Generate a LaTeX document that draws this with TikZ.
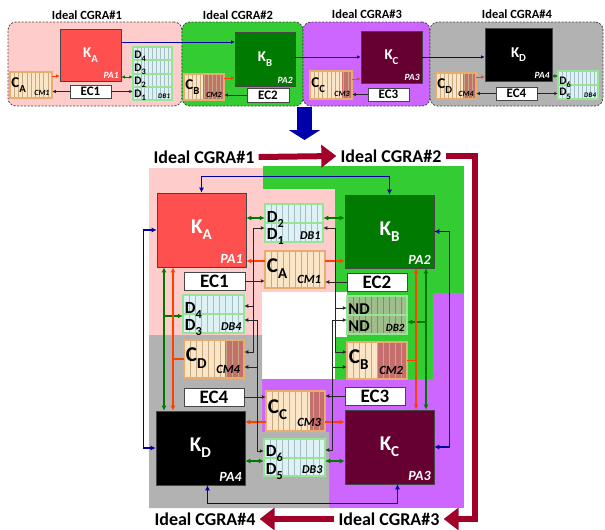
\documentclass[tikz,border=0pt]{standalone}
\usepackage{fontspec}
\setmainfont{Carlito}
\usepackage{graphicx}
\usepackage{tikz}
\usetikzlibrary{arrows.meta, calc}
\definecolor{BgPink}{RGB}{255,204,204}
\definecolor{BgGreen}{RGB}{51,204,51}
\definecolor{BgPurple}{RGB}{204,102,255}
\definecolor{BgGray}{RGB}{178,178,178}
\definecolor{KRed}{RGB}{255,80,80}
\definecolor{KGreen}{RGB}{0,122,0}
\definecolor{KMaroon}{RGB}{102,0,51}
\definecolor{DbFill}{RGB}{222,242,246}
\definecolor{DbBand}{RGB}{150,228,150}
\definecolor{DbLine}{RGB}{165,190,195}
\definecolor{NdFill}{RGB}{160,190,140}
\definecolor{NdLine}{RGB}{120,145,105}
\definecolor{CmFill}{RGB}{250,230,198}
\definecolor{CmBand}{RGB}{232,172,112}
\definecolor{CmLine}{RGB}{200,170,130}
\definecolor{CmRed}{RGB}{196,110,110}
\definecolor{LnNavy}{RGB}{0,0,160}
\definecolor{DnBlue}{RGB}{0,0,170}
\definecolor{LnGreen}{RGB}{0,120,0}
\definecolor{LnRed}{RGB}{255,64,0}
\definecolor{BigRed}{RGB}{163,0,41}
\definecolor{BoxEdge}{RGB}{70,70,70}

\newcommand{\lowidx}[1]{\raisebox{-0.3em}{\scalebox{0.72}{#1}}}
\newcommand{\boxstripes}[1]{%
  \foreach \s in {1,...,9}
    \draw[#1, line width=0.6pt]
      ($(path picture bounding box.north west)!{\s/10}!(path picture bounding box.north east)$) --
      ($(path picture bounding box.south west)!{\s/10}!(path picture bounding box.south east)$);}
\newcommand{\boxrows}[2]{%
  \foreach \r in {#1}
    \draw[#2, line width=2pt]
      ($(path picture bounding box.north west)!\r!(path picture bounding box.south west)$) --
      ($(path picture bounding box.north east)!\r!(path picture bounding box.south east)$);}

\begin{document}
\begin{tikzpicture}[x=1pt, y=-1pt,
    >={Latex[length=5pt,width=5pt]},
    fs/.style={font=\bfseries\fontsize{#1}{#1}\selectfont},
    fsi/.style={font=\bfseries\itshape\fontsize{#1}{#1}\selectfont},
    fsl/.style 2 args={font=\bfseries\fontsize{#1}{#2}\selectfont},
    cgbox/.style={rectangle, rounded corners=8pt, draw=BoxEdge, line width=0.8pt,
                  dash pattern=on 2pt off 1.5pt},
    kbox/.style={rectangle, draw=BoxEdge, line width=0.6pt, text=white, inner sep=0pt},
    dbbox/.style={rectangle, draw=BoxEdge, line width=0.5pt, double=DbBand,
                  double distance=1.6pt, fill=DbFill, inner sep=0pt,
                  path picture={\boxstripes{DbLine}\boxrows{#1}{DbBand}}},
    ndbox/.style={dbbox=#1, fill=NdFill,
                  path picture={\boxstripes{NdLine}\boxrows{#1}{DbBand}}},
    cmbox/.style={rectangle, draw=BoxEdge, line width=0.5pt, double=CmBand,
                  double distance=1.6pt, fill=CmFill, inner sep=0pt,
                  path picture={\fill[CmRed]
                    ($(path picture bounding box.north west)!#1!(path picture bounding box.north east)$)
                    rectangle (path picture bounding box.south east);
                    \boxstripes{CmLine}}},
    ecbox/.style={rectangle, draw=BoxEdge, line width=0.9pt, fill=white, inner sep=0pt},
    palbl/.style={anchor=south east, text=white, inner sep=3.5pt},
    tglbl/.style={anchor=south east, inner sep=3pt},
    dlbl/.style={anchor=west, align=left, inner sep=2pt},
    ttl/.style={inner sep=4pt},
    bigarr/.style={BigRed, line width=6pt, -{Triangle[length=15pt,width=22pt]}},
    blarr/.style={LnNavy, line width=1.3pt, <->},
    garr/.style={LnGreen, line width=1.3pt, <->},
    rarr/.style={LnRed, line width=1.3pt, ->},
    karr/.style={black!85, line width=0.8pt, -{Latex[length=4pt,width=4pt]}},
    tarr/.style={line width=0.9pt, -{Latex[length=3.5pt,width=3.5pt]}}
  ]
  \useasboundingbox (0,0) rectangle (605,530);

  % top row: the four ideal CGRAs
  \node[cgbox, fill=BgPink, minimum width=174pt, minimum height=84pt] (cg1) at (95,64) {};
  \node[cgbox, fill=BgGreen, minimum width=121pt, minimum height=84pt] (cg2) at (242.5,64) {};
  \node[cgbox, fill=BgPurple, minimum width=127pt, minimum height=84pt] (cg3) at (366.5,64) {};
  \node[cgbox, fill=BgGray, minimum width=173pt, minimum height=84pt] (cg4) at (516.5,64) {};
  \node[ttl, fs=12.5] (t1) at (87,15) {Ideal CGRA\#1};
  \node[ttl, fs=12.5] (t2) at (238,15) {Ideal CGRA\#2};
  \node[ttl, fs=12.5] (t3) at (367,14) {Ideal CGRA\#3};
  \node[ttl, fs=12.5] (t4) at (517,14) {Ideal CGRA\#4};

  \node[kbox, fs=15, fill=KRed, minimum width=61pt, minimum height=52pt] (kat) at (90.5,55) {K\lowidx{A}};
  \node[palbl, fsi=9.5, inner sep=2.5pt] (pa1t) at (kat.south east) {PA1};
  \node[kbox, fs=15, fill=KGreen, minimum width=60pt, minimum height=54pt] (kbt) at (265,59) {K\lowidx{B}};
  \node[palbl, fsi=9.5, inner sep=2.5pt] (pa2t) at (kbt.south east) {PA2};
  \node[kbox, fs=15, fill=KMaroon, minimum width=61pt, minimum height=52pt] (kct) at (391.5,57) {K\lowidx{C}};
  \node[palbl, fsi=9.5, inner sep=2.5pt] (pa3t) at (kct.south east) {PA3};
  \node[kbox, fs=15, fill=black, minimum width=67pt, minimum height=53pt] (kdt) at (518.5,54.5) {K\lowidx{D}};
  \node[palbl, fsi=9.5, inner sep=2.5pt] (pa4t) at (kdt.south east) {PA4};

  \node[cmbox=1, double distance=1.1pt, minimum width=42pt, minimum height=26pt] (cat) at (31,85) {};
  \node[dlbl, fs=15, inner sep=1.5pt] (catc) at (cat.west) {C\lowidx{A}};
  \node[tglbl, fsi=8, inner sep=2.5pt] (catn) at (cat.south east) {CM1};
  \node[cmbox=0.48, double distance=1.1pt, minimum width=40pt, minimum height=26pt] (cbt) at (204,87) {};
  \node[dlbl, fs=15, inner sep=1.5pt] (cbtc) at (cbt.west) {C\lowidx{B}};
  \node[tglbl, fsi=8, inner sep=2.5pt] (cbtn) at (cbt.south east) {CM2};
  \node[cmbox=0.76, double distance=1.1pt, minimum width=42pt, minimum height=28pt] (cct) at (331,85) {};
  \node[dlbl, fs=15, inner sep=1.5pt] (cctc) at (cct.west) {C\lowidx{C}};
  \node[tglbl, fsi=8, inner sep=2.5pt] (cctn) at (cct.south east) {CM3};
  \node[cmbox=0.68, double distance=1.1pt, minimum width=40pt, minimum height=26pt] (cdt) at (456,86) {};
  \node[dlbl, fs=15, inner sep=1.5pt] (cdtc) at (cdt.west) {C\lowidx{D}};
  \node[tglbl, fsi=8, inner sep=2.5pt] (cdtn) at (cdt.south east) {CM4};

  \node[dbbox={0.25,0.5,0.75}, double distance=1.1pt, minimum width=39pt, minimum height=53pt] (db1t) at (152.5,73.5) {};
  \node[dlbl, fsl={11.5}{13}, inner sep=1.5pt] (db1td) at ([yshift=-2pt]db1t.west)
       {D\lowidx{4}\\D\lowidx{3}\\D\lowidx{2}\\D\lowidx{1}};
  \node[tglbl, fsi=7, inner sep=2pt] (db1tn) at (db1t.south east) {DB1};
  \node[dbbox={0.5}, double distance=1.1pt, minimum width=40pt, minimum height=28pt] (db4t) at (578,85) {};
  \node[dlbl, fsl={11.5}{11.5}, inner sep=1.5pt] (db4td) at ([yshift=-3pt]db4t.west)
       {D\lowidx{6}\\D\lowidx{5}};
  \node[tglbl, fsi=7, inner sep=2pt] (db4tn) at (db4t.south east) {DB4};

  \node[ecbox, fs=13, minimum width=41pt, minimum height=13pt] (ec1t) at (90.5,91.5) {EC1};
  \node[ecbox, fs=13, minimum width=42pt, minimum height=14pt] (ec2t) at (268,95) {EC2};
  \node[ecbox, fs=13, minimum width=41pt, minimum height=13pt] (ec3t) at (388.5,94.5) {EC3};
  \node[ecbox, fs=13, minimum width=41pt, minimum height=13pt] (ec4t) at (516.5,93.5) {EC4};

  \draw[tarr, LnNavy] (kat.east |- 0,42) -- (kbt.west |- 0,42);
  \draw[tarr, LnNavy] (kbt.east |- 0,57) -- (kct.west |- 0,57);
  \draw[tarr, LnNavy] (kct.east |- 0,57) -- (kdt.west |- 0,57);
  \draw[tarr, LnRed] (cat.east |- 0,76) -- (kat.west |- 0,76);
  \draw[tarr, LnRed] (cbt.east |- 0,78) -- (kbt.west |- 0,78);
  \draw[tarr, LnRed] (cct.east |- 0,79) -- (kct.west |- 0,79);
  \draw[tarr, LnRed] (cdt.east |- 0,77) -- (kdt.west |- 0,77);
  \draw[tarr, LnGreen, {Latex[length=3.5pt,width=3.5pt]}-{Latex[length=3.5pt,width=3.5pt]}]
       (kat.east |- 0,77) -- (db1t.west |- 0,77);
  \draw[tarr, LnGreen, {Latex[length=2.5pt,width=3.5pt]}-{Latex[length=2.5pt,width=3.5pt]}]
       (kdt.east |- 0,76) -- (db4t.west |- 0,76);
  \draw[tarr, black!85] (ec1t.west) -- (cat.east |- ec1t.west);
  \draw[tarr, black!85] (ec1t.east) -- (db1t.west |- ec1t.east);
  \draw[tarr, black!85] (ec2t.west) -- (cbt.east |- ec2t.west);
  \draw[tarr, black!85] (ec3t.west) -- (cct.east |- ec3t.west);
  \draw[tarr, black!85] (ec4t.west) -- (cdt.east |- ec4t.west);
  \draw[tarr, black!85] (ec4t.east) -- (db4t.west |- ec4t.east);

  \coordinate (dn1) at (304.5,107);
  \coordinate (dn2) at (304.5,140);
  \draw[DnBlue, line width=15pt, -{Triangle[length=10pt,width=31pt]}] (dn1) -- (dn2);

  % shared areas of the merged array
  \fill[BgGreen] (263,166) rectangle (464,380);
  \fill[BgPink] (149,168) rectangle (263,335);
  \fill[BgPink] (263,189) rectangle (335,292);
  \fill[white] (262,292) rectangle (347,337);
  \fill[white] (262,337) rectangle (335,380);
  \fill[BgPurple] (259,379) rectangle (464,508);
  \fill[BgPurple] (433,293) rectangle (464,379);
  \fill[BgGray] (149,335) -- (262,335) -- (262,432) -- (329,432) -- (329,508) -- (149,508) -- cycle;

  % main ring
  \node[kbox, fs=21, fill=KRed, minimum width=89pt, minimum height=74pt] (ka) at (201.5,230) {K\lowidx{A}};
  \node[palbl, fsi=14] (pa1) at (ka.south east) {PA1};
  \node[kbox, fs=21, fill=KGreen, minimum width=89pt, minimum height=73pt] (kb) at (389.5,231.5) {K\lowidx{B}};
  \node[palbl, fsi=14] (pa2) at (kb.south east) {PA2};
  \node[kbox, fs=21, fill=KMaroon, minimum width=89pt, minimum height=74pt] (kc) at (389.5,447) {K\lowidx{C}};
  \node[palbl, fsi=14] (pa3) at (kc.south east) {PA3};
  \node[kbox, fs=21, fill=black, minimum width=89pt, minimum height=74pt] (kd) at (200.5,448) {K\lowidx{D}};
  \node[palbl, fsi=14] (pa4) at (kd.south east) {PA4};

  \node[dbbox={0.5}, minimum width=58pt, minimum height=38pt] (db1) at (294,223) {};
  \node[dlbl, fsl={17}{16}] (db1d) at ([yshift=-5pt]db1.west) {D\lowidx{2}\\D\lowidx{1}};
  \node[tglbl, fsi=12, inner sep=2.5pt] (db1n) at (db1.south east) {DB1};
  \node[cmbox=1, minimum width=60pt, minimum height=37pt] (cm1) at (295,269.5) {};
  \node[dlbl, fs=21] (cm1c) at ([yshift=1pt]cm1.west) {C\lowidx{A}};
  \node[tglbl, fsi=12.5, inner sep=4pt] (cm1n) at (cm1.south east) {CM1};

  \node[dbbox={0.5}, minimum width=61pt, minimum height=38pt] (db4) at (213.5,314) {};
  \node[dlbl, fsl={17}{15}] (db4d) at ([yshift=-5pt]db4.west) {D\lowidx{4}\\D\lowidx{3}};
  \node[tglbl, fsi=12, inner sep=2.5pt] (db4n) at (db4.south east) {DB4};
  \node[cmbox=0.68, minimum width=60pt, minimum height=38pt] (cm4) at (214,359) {};
  \node[dlbl, fs=21] (cm4c) at ([yshift=1pt]cm4.west) {C\lowidx{D}};
  \node[tglbl, fsi=12.5, inner sep=4pt] (cm4n) at (cm4.south east) {CM4};

  \node[ndbox={0.5}, minimum width=60pt, minimum height=38pt] (db2) at (377,315) {};
  \node[dlbl, fsl={16.5}{17}, inner sep=1.5pt] (db2d) at ([yshift=-2.5pt]db2.west) {ND\\ND};
  \node[tglbl, fsi=11, inner sep=2.5pt] (db2n) at (db2.south east) {DB2};
  \node[cmbox=0.52, minimum width=60pt, minimum height=37pt] (cm2) at (377,360.5) {};
  \node[dlbl, fs=21] (cm2c) at ([yshift=1pt]cm2.west) {C\lowidx{B}};
  \node[tglbl, fsi=12.5, inner sep=4pt] (cm2n) at (cm2.south east) {CM2};

  \node[cmbox=0.75, minimum width=59pt, minimum height=40pt] (cm3) at (295.5,411) {};
  \node[dlbl, fs=21] (cm3c) at ([yshift=1pt]cm3.west) {C\lowidx{C}};
  \node[tglbl, fsi=12.5, inner sep=4pt] (cm3n) at (cm3.south east) {CM3};
  \node[dbbox={0.5}, minimum width=61pt, minimum height=37pt] (db3) at (294.5,457.5) {};
  \node[dlbl, fsl={17}{16}] (db3d) at ([yshift=-5pt]db3.west) {D\lowidx{6}\\D\lowidx{5}};
  \node[tglbl, fsi=12, inner sep=2.5pt] (db3n) at (db3.south east) {DB3};

  \node[ecbox, fs=19, minimum width=61pt, minimum height=18pt] (ec1) at (214.5,281) {EC1};
  \node[ecbox, fs=19, minimum width=60pt, minimum height=18pt] (ec2) at (377,282) {EC2};
  \node[ecbox, fs=19, minimum width=60pt, minimum height=18pt] (ec3) at (375,396) {EC3};
  \node[ecbox, fs=19, minimum width=60pt, minimum height=18pt] (ec4) at (214,397) {EC4};

  % array-to-array links
  \draw[blarr] (ka.north) -- ++(0,-16) -| (kb.north);
  \draw[blarr] (kb.east) -- ++(15,0) |- (kc.east);
  \draw[blarr] ([xshift=8pt]kc.south) -- ++(0,19) -| ([xshift=7pt]kd.south);
  \draw[blarr] (ka.west) -- ++(-13.5,0) |- (kd.west);

  % data buffers
  \draw[garr] (ka.east |- 0,218) -- (db1.west |- 0,218);
  \draw[garr] (db1.east |- 0,218) -- (kb.west |- 0,218);
  \draw[garr] (kd.east |- 0,461) -- (db3.west |- 0,461);
  \draw[garr] (db3.east |- 0,461) -- (kc.west |- 0,461);
  \draw[garr] (ka.south -| 164,0) -- (kd.north -| 164,0);
  \draw[garr] (kb.south -| 426,0) -- (kc.north -| 426,0);
  \coordinate (gl) at (164,316);
  \coordinate (gr) at (426,322);
  \draw[garr, -> ] (gl) -- (db4.west |- gl);
  \draw[garr, -> ] (gr) -- (db2.east |- gr);

  % configuration memories
  \draw[rarr] (cm1.west |- 0,261) -- (ka.east |- 0,261);
  \draw[rarr] (cm1.east |- 0,261) -- (kb.west |- 0,261);
  \draw[rarr] (cm3.west |- 0,422) -- (kd.east |- 0,422);
  \draw[rarr] (cm3.east |- 0,422) -- (kc.west |- 0,422);
  \draw[rarr, <->] (ka.south -| 173,0) -- (kd.north -| 173,0);
  \draw[rarr, <->] (kb.south -| 416,0) -- (kc.north -| 416,0);
  \draw[LnRed, line width=1.3pt] (cm4.west) -- (cm4.west -| 173,0);
  \draw[LnRed, line width=1.3pt] (cm2.east) -- (cm2.east -| 416,0);

  % execution controllers
  \coordinate (bus1) at (253,0);
  \coordinate (bus4) at (257,0);
  \coordinate (bus2) at (335,0);
  \coordinate (bus3) at (332,0);
  \draw[karr] (ec1.east) -- (cm1.west |- ec1.east);
  \draw[karr] (ec1.east -| bus1) |- (db1.west |- 0,228);
  \draw[karr] (ec1.east -| bus1) |- (db4.east |- 0,306);
  \draw[karr] (ec1.east -| bus1) |- (cm4.east |- 0,352);
  \draw[karr] (ec4.east) -- (cm3.west |- ec4.east);
  \draw[karr] (ec4.east -| bus4) |- (db4.east |- 0,320);
  \draw[karr] (ec4.east -| bus4) |- (cm4.east |- 0,367);
  \draw[karr] (ec4.east -| bus4) |- (db3.west |- 0,451);
  \draw[karr] (ec2.west) -- (cm1.east |- ec2.west);
  \draw[karr] (ec2.west -| bus2) |- (db1.east |- 0,228);
  \draw[karr] (ec2.west -| bus2) |- (db2.west |- 0,308);
  \draw[karr] (ec2.west -| bus2) |- (cm2.west |- 0,352);
  \draw[karr] (ec3.west) -- (cm3.east |- ec3.west);
  \draw[karr] (ec3.west -| bus3) |- (db2.west |- 0,320);
  \draw[karr] (ec3.west -| bus3) |- (cm2.west |- 0,367);
  \draw[karr] (ec3.west -| bus3) |- (db3.east |- 0,450);

  % hand-over between the ideal CGRAs
  \node[ttl, fs=18] (l1) at (204,157) {Ideal CGRA\#1};
  \node[ttl, fs=18] (l2) at (391,156) {Ideal CGRA\#2};
  \node[ttl, fs=18] (l3) at (389,519) {Ideal CGRA\#3};
  \node[ttl, fs=18] (l4) at (205,519) {Ideal CGRA\#4};
  \coordinate (rc) at (474.5,519);
  \draw[bigarr] (l1.east) -- (l2.west);
  \draw[bigarr] (l2.east) -| (rc) -- (l3.east);
  \draw[bigarr] (l3.west) -- (l4.east);
\end{tikzpicture}
\end{document}
